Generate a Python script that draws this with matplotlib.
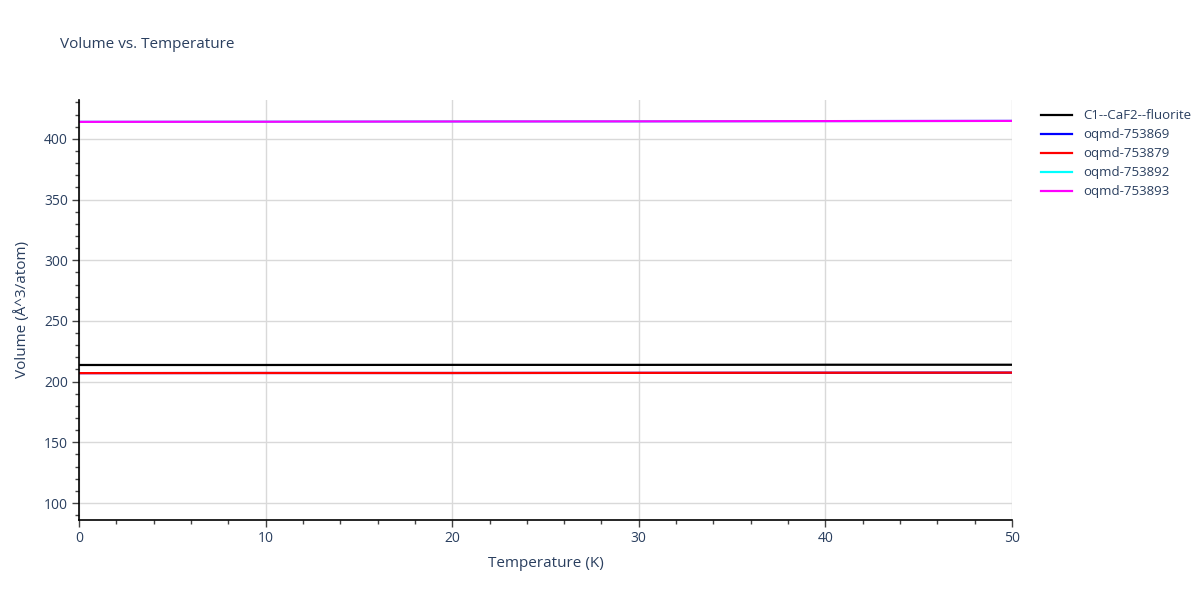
import matplotlib.pyplot as plt
from matplotlib.ticker import MultipleLocator

temperature = [0, 10, 20, 30, 40, 50]
vol_fluorite = [213.7, 213.7, 213.8, 213.8, 213.9, 213.9]
vol_753869 = [207.0, 207.1, 207.1, 207.2, 207.3, 207.4]
vol_753879 = [207.0, 207.1, 207.1, 207.2, 207.3, 207.4]
vol_753892 = [414.0, 414.1, 414.3, 414.4, 414.6, 414.8]
vol_753893 = [414.0, 414.1, 414.3, 414.4, 414.6, 414.8]

names = ['C1--CaF2--fluorite', 'oqmd-753869', 'oqmd-753879', 'oqmd-753892', 'oqmd-753893']
series = [vol_fluorite, vol_753869, vol_753879, vol_753892, vol_753893]
colors = ['black', 'blue', 'red', 'cyan', 'magenta']

text_col = '#2a3f5f'
plt.rcParams['font.family'] = ['Open Sans', 'DejaVu Sans']

fig = plt.figure(figsize=(12, 6), dpi=100)
ax = fig.add_axes([79 / 1200, 80 / 600, 933 / 1200, 420 / 600])

for name, vals, c in zip(names, series, colors):
    ax.plot(temperature, vals, color=c, lw=1.6, label=name)

ax.set_xlim(0, 50)
ax.set_ylim(86, 432)
ax.xaxis.set_major_locator(MultipleLocator(10))
ax.xaxis.set_minor_locator(MultipleLocator(2))
ax.yaxis.set_major_locator(MultipleLocator(50))
ax.yaxis.set_minor_locator(MultipleLocator(10))
ax.grid(True, which='major', color='#d9d9d9', lw=1)
ax.set_axisbelow(True)

for s in ['top', 'right']:
    ax.spines[s].set_visible(False)
for s in ['left', 'bottom']:
    ax.spines[s].set_color('black')
    ax.spines[s].set_linewidth(1.2)

ax.tick_params(which='major', length=5, width=1, color='#444444', labelcolor=text_col, labelsize=10, pad=3)
ax.tick_params(which='minor', length=3, width=1, color='#444444')

ax.set_xlabel('Temperature (K)', color=text_col, fontsize=11, labelpad=7)
ax.set_ylabel('Volume (Å^3/atom)', color=text_col, fontsize=11, labelpad=10)
fig.text(60 / 1200, 1 - 45 / 600, 'Volume vs. Temperature', color=text_col, fontsize=11, va='center')

leg = ax.legend(loc='upper left', bbox_to_anchor=(1.025, 0.99), frameon=False, fontsize=9.5,
                handlelength=2.4, labelspacing=0.45, borderaxespad=0)
for t in leg.get_texts():
    t.set_color(text_col)

fig.savefig('out.png', dpi=100)
